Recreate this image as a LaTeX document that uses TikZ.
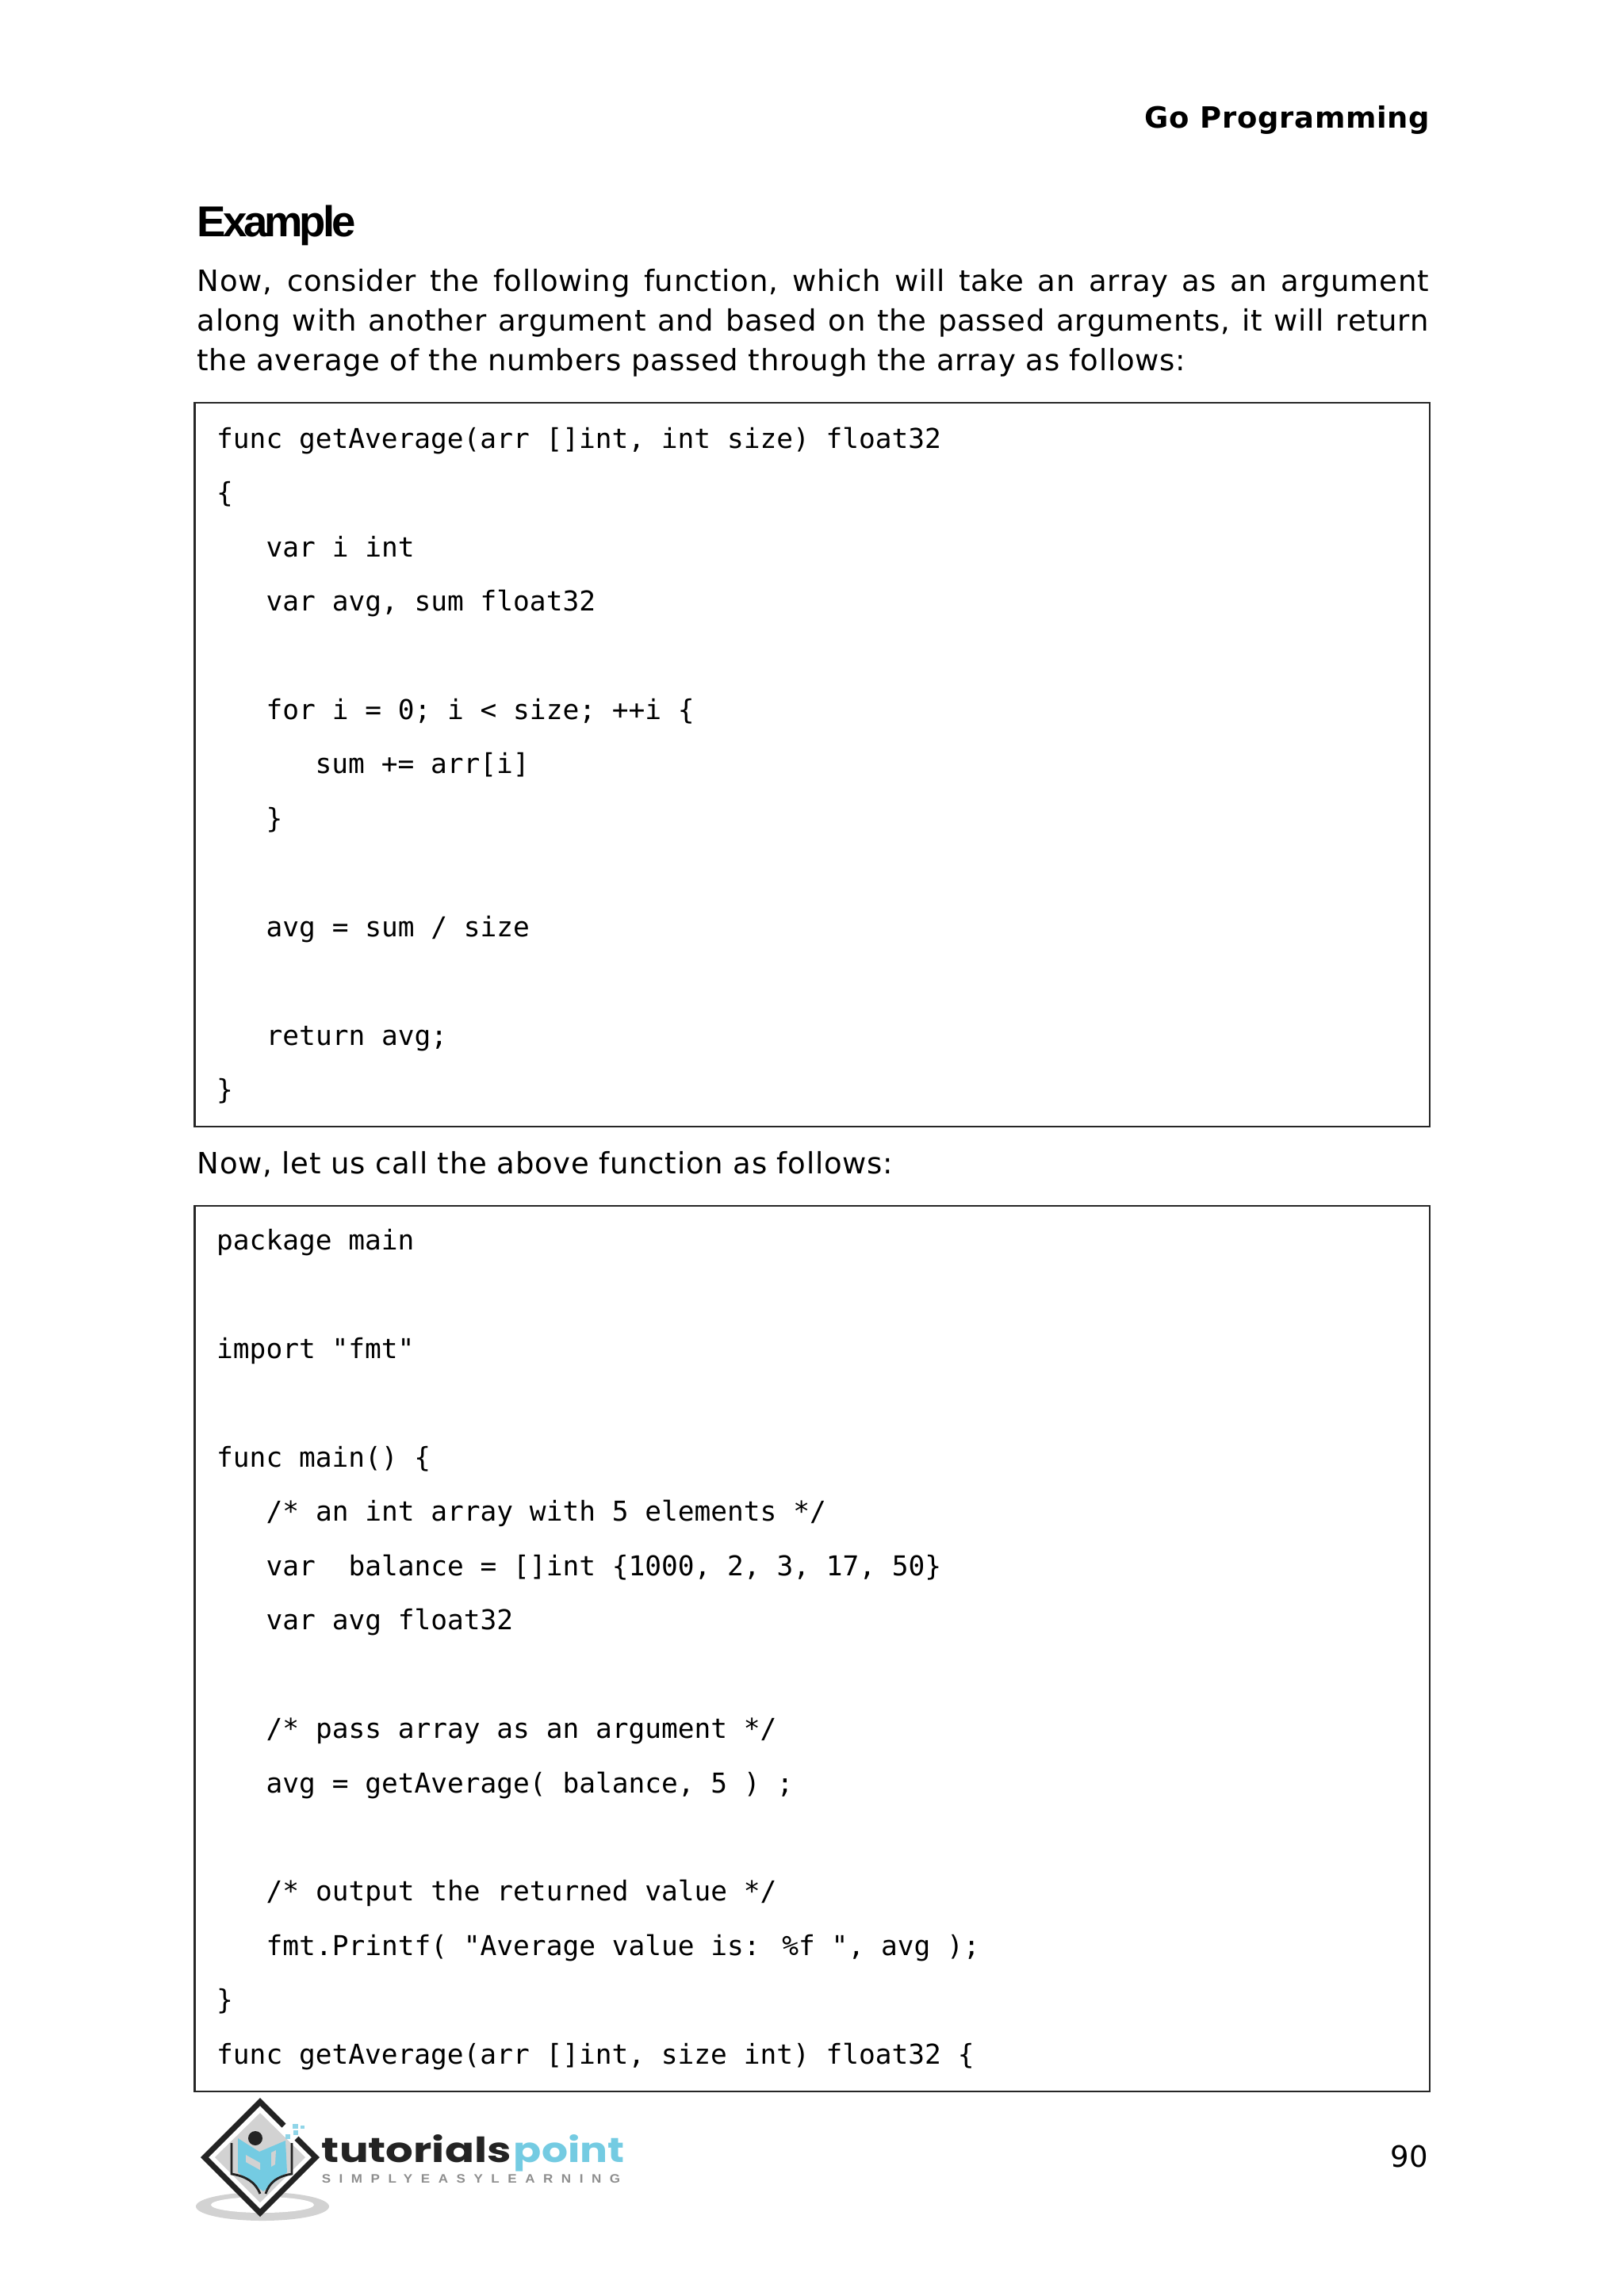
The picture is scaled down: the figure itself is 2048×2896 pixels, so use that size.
\documentclass[tikz,border=0pt]{standalone}
\usepackage{fontspec}
\usepackage{tikz}
\usetikzlibrary{positioning}
\setmainfont[LetterSpace=2]{DejaVu Sans}
\newfontfamily\codeFont{DejaVu Sans Mono}
\newfontfamily\headFont[LetterSpace=-7.5]{Liberation Sans}
\newfontfamily\logoFont{Poppins}
\newfontfamily\sloganFont[LetterSpace=62]{Liberation Sans}
\definecolor{logoBlue}{HTML}{74CBE2}
\definecolor{logoDark}{HTML}{232323}
\definecolor{logoGray}{HTML}{D2D2D2}
\definecolor{sloganGray}{HTML}{8E8E8E}

\begin{document}
\begin{tikzpicture}[x=0.01cm,y=-0.01cm]

          \tikzstyle{runText} = [inner sep=0pt, anchor=base west, font=\fontsize{10.53}{14.2}\selectfont];
          \tikzstyle{pageTitle} = [inner sep=0pt, anchor=base east, font=\bfseries\fontsize{10.5}{13}\selectfont];
          \tikzstyle{headText} = [inner sep=0pt, anchor=base west, font=\headFont\bfseries\fontsize{15.5}{18}\selectfont];
          \tikzstyle{codeLine} = [inner sep=0pt, anchor=base west, font=\codeFont\fontsize{9.81}{12}\selectfont];
          \tikzstyle{logoWord} = [inner sep=0pt, anchor=base west, font=\logoFont\bfseries\fontsize{12.4}{14}\selectfont];
          \tikzstyle{boxEdge} = [line width=0.65pt, black!85];

          \useasboundingbox (0,0) rectangle (2048,2896);

          \node[pageTitle] (title) at (1804,161) {Go Programming};
          \node[headText] (example) at (248,298) {Example};
          \node[inner sep=0pt, anchor=north west, text width=15.52cm, align=justify, font=\fontsize{10.53}{14.2}\selectfont] (intro) at (248,339)
            {Now, consider the following function, which will take an array as an argument\linebreak along with another argument and based on the passed arguments, it will return\linebreak the average of the numbers passed through the array as follows:};

          % first listing
          \draw[boxEdge] (245.5,508) rectangle (1803,1421);
          \node[codeLine] (funcHead) at (272.5,565) {func getAverage(arr []int, int size) float32};
          \node[codeLine] (funcOpen) at (272.5,633.5) {\{};
          \node[codeLine] (varI) at (335,702) {var i int};
          \node[codeLine] (varAvg) at (335,770) {var avg, sum float32};
          \node[codeLine] (forHead) at (335,907) {for i = 0; i < size; ++i \{};
          \node[codeLine] (forBody) at (397,975.5) {sum += arr[i]};
          \node[codeLine] (forClose) at (335,1044) {\}};
          \node[codeLine] (avgCalc) at (335,1181) {avg = sum / size};
          \node[codeLine] (retAvg) at (335,1318) {return avg;};
          \node[codeLine] (funcClose) at (272.5,1386) {\}};

          \node[runText] (callText) at (248,1480) {Now, let us call the above function as follows:};

          % second listing
          \draw[boxEdge] (245.5,1521) rectangle (1803,2638);
          \node[codeLine] (pkg) at (272.5,1576) {package main};
          \node[codeLine] (imp) at (272.5,1713) {import "fmt"};
          \node[codeLine] (mainHead) at (272.5,1850) {func main() \{};
          \node[codeLine] (noteArray) at (335,1918) {/* an int array with 5 elements */};
          \node[codeLine] (varBalance) at (335,1987) {var~~balance = []int \{1000, 2, 3, 17, 50\}};
          \node[codeLine] (varAvgMain) at (335,2055) {var avg float32};
          \node[codeLine] (notePass) at (335,2192) {/* pass array as an argument */};
          \node[codeLine] (callAvg) at (335,2261) {avg = getAverage( balance, 5 ) ;};
          \node[codeLine] (noteOut) at (335,2397) {/* output the returned value */};
          \node[codeLine] (printAvg) at (335,2466) {fmt.Printf( "Average value is: \%f ", avg );};
          \node[codeLine] (mainClose) at (272.5,2534) {\}};
          \node[codeLine] (funcTail) at (272.5,2603) {func getAverage(arr []int, size int) float32 \{};

          % logo
          \fill[logoGray] (331,2783) ellipse [x radius=84, y radius=18];
          \fill[white] (331,2781) ellipse [x radius=65, y radius=10];
          \fill[white] (328,2646) -- (403,2721) -- (328,2796) -- (253,2721) -- cycle;
          \fill[logoGray] (328,2665) -- (385,2721) -- (328,2778) -- (271,2721) -- cycle;
          \draw[logoDark, line width=2pt, line join=miter] (358,2681) -- (328,2651) -- (258,2721) -- (328,2791) -- (398,2721) -- (374,2697);
          \fill[logoBlue] (300,2697) -- (327,2714) -- (360,2700) -- (362,2740) -- (332,2764) -- (300,2740) -- cycle;
          \fill[logoGray] (310,2718) -- (328,2728) -- (328,2737) -- (310,2727) -- cycle;
          \fill[logoGray] (342,2715) -- (348,2712) -- (347,2730) -- (342,2733) -- cycle;
          \fill[logoDark] (322,2697) circle (9);
          \draw[logoDark, line width=0.8pt] (292,2703) -- (292,2742) .. controls (310,2745) and (322,2752) .. (328,2767);
          \draw[logoDark, line width=0.8pt] (368,2703) -- (368,2742) .. controls (350,2745) and (340,2752) .. (335,2767);
          \fill[logoBlue!80] (369,2679) rectangle (376,2685);
          \fill[logoBlue!80] (379,2681) rectangle (384,2685);
          \fill[logoBlue!80] (370,2687) rectangle (376,2693);
          \fill[logoBlue!80] (360,2692) rectangle (366,2698);
          \node[logoWord, xscale=1.25, text=logoDark] (wordDark) at (405,2727) {tutorials};
          \node[logoWord, xscale=1.19, text=logoBlue] (wordBlue) at (647,2727) {point};
          \node[inner sep=0pt, anchor=base west, xscale=1.1, text=sloganGray, font=\sloganFont\bfseries\fontsize{4.4}{6}\selectfont] (slogan) at (405,2753) {SIMPLYEASYLEARNING};

          \node[inner sep=0pt, anchor=base east, font=\fontsize{10.53}{13}\selectfont] (pageNum) at (1802,2733) {90};
        \end{tikzpicture}
\end{document}
